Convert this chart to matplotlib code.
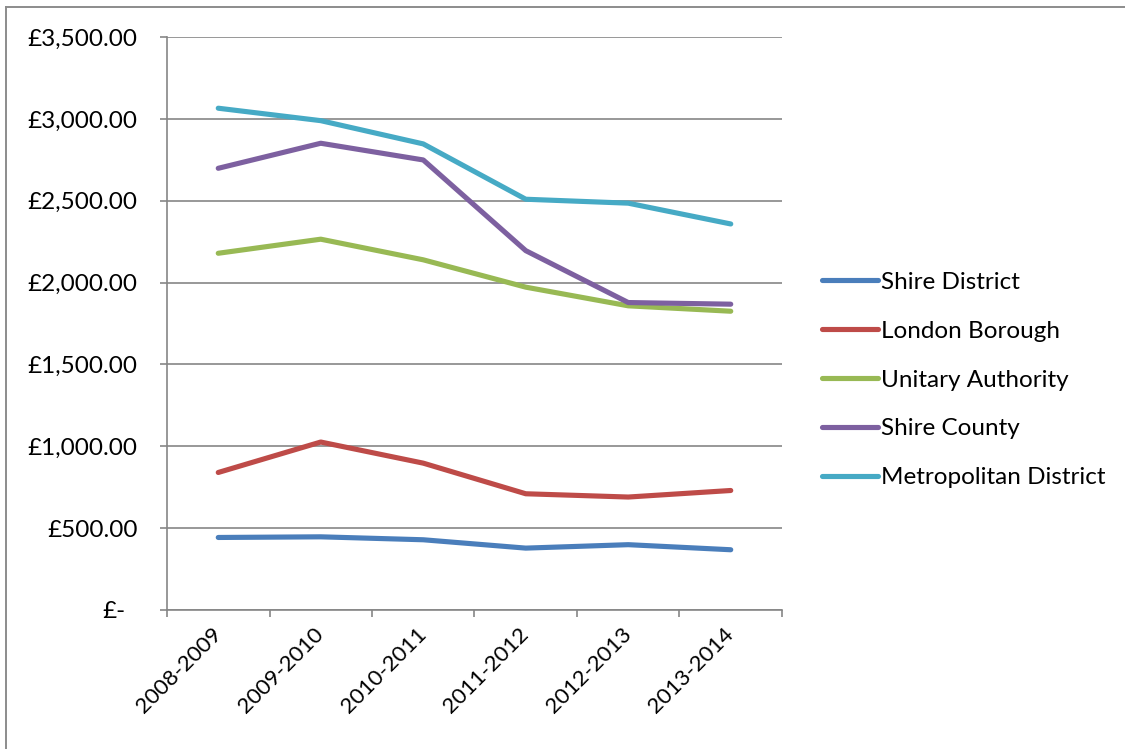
import matplotlib.pyplot as plt
from matplotlib.lines import Line2D
from matplotlib.ticker import FixedLocator, FuncFormatter
from matplotlib.transforms import ScaledTranslation

# Spend per head by authority type
years = ['2008-2009', '2009-2010', '2010-2011', '2011-2012', '2012-2013', '2013-2014']
shire_district = [443, 447, 429, 378, 399, 368]
london_borough = [840, 1026, 897, 710, 690, 730]
unitary_authority = [2179, 2265, 2139, 1972, 1858, 1825]
shire_county = [2698, 2851, 2749, 2195, 1878, 1868]
metropolitan_district = [3065, 2989, 2847, 2509, 2485, 2358]

series = [
    ('Shire District', shire_district, '#4A7EBB'),
    ('London Borough', london_borough, '#BE4B48'),
    ('Unitary Authority', unitary_authority, '#98B954'),
    ('Shire County', shire_county, '#7D60A0'),
    ('Metropolitan District', metropolitan_district, '#46AAC5'),
]

plt.rcParams['font.family'] = ['Lato', 'DejaVu Sans']
FS = 17.5
W, H = 1125, 749
fig = plt.figure(figsize=(W / 100, H / 100), dpi=100)

# chart area border (only top and left edges show)
fig.add_artist(Line2D([5.5 / W, 5.5 / W], [0, 1 - 6.5 / H], transform=fig.transFigure,
                      color='#8c8c8c', lw=1.4))
fig.add_artist(Line2D([5.5 / W, 1], [1 - 6.5 / H, 1 - 6.5 / H], transform=fig.transFigure,
                      color='#8c8c8c', lw=1.4))

left, right, top, bottom = 167, 782, 37, 610
ax = fig.add_axes([left / W, 1 - bottom / H, (right - left) / W, (bottom - top) / H])

x = list(range(len(years)))
for name, vals, col in series:
    ax.plot(x, vals, color=col, lw=3.7, label=name,
            solid_capstyle='round', solid_joinstyle='round')

ax.set_xlim(-0.5, len(years) - 0.5)
ax.set_ylim(0, 3500)

grid_col = '#868686'
for s in ['top', 'right']:
    ax.spines[s].set_visible(False)
for s in ['left', 'bottom']:
    ax.spines[s].set_color(grid_col)
    ax.spines[s].set_linewidth(1.2)

yt = list(range(0, 3501, 500))
ax.set_yticks(yt)
ax.yaxis.set_major_formatter(FuncFormatter(lambda v, p: '£-' if v == 0 else '£{:,.2f}'.format(v)))
ax.yaxis.grid(True, color=grid_col, lw=1.2)
ax.set_axisbelow(True)
ax.tick_params(axis='y', length=5, width=1.2, color=grid_col, pad=16, labelsize=FS)

# category labels at centres, tick marks at category boundaries
ax.xaxis.set_major_locator(FixedLocator(x))
ax.set_xticklabels(years, rotation=45, ha='right', va='center', rotation_mode='anchor')
ax.xaxis.set_minor_locator(FixedLocator([i - 0.5 for i in range(len(years) + 1)]))
ax.tick_params(axis='x', which='major', length=0, pad=15, labelsize=16)
ax.tick_params(axis='x', which='minor', length=5, width=1.2, color=grid_col)

# accounting-style zero label sits a little left of the others
zero_tick = ax.yaxis.get_major_ticks()[0]
zero_tick.label1.set_transform(zero_tick.label1.get_transform()
                               + ScaledTranslation(-0.12, 0, fig.dpi_scale_trans))

fig.legend(loc='center left', bbox_to_anchor=(800 / W, 1 - 380 / H), frameon=False,
           fontsize=FS, handlelength=2.3, handletextpad=0.15, labelspacing=1.15)

fig.savefig('out.png', dpi=100)
